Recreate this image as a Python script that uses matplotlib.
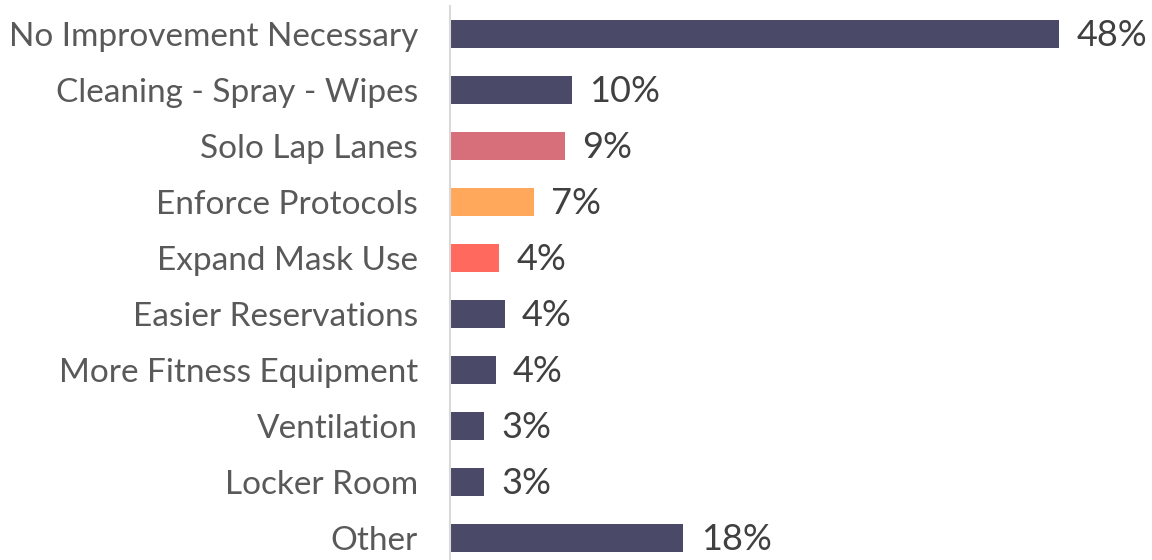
import matplotlib.pyplot as plt

categories = ['No Improvement Necessary', 'Cleaning - Spray - Wipes', 'Solo Lap Lanes',
              'Enforce Protocols', 'Expand Mask Use', 'Easier Reservations',
              'More Fitness Equipment', 'Ventilation', 'Locker Room', 'Other']
values = [48.0, 9.6, 9.1, 6.6, 3.9, 4.3, 3.6, 2.7, 2.7, 18.4]
bar_colors = ['#4a4a68', '#4a4a68', '#d76f7a', '#ffa75a', '#ff695e',
              '#4a4a68', '#4a4a68', '#4a4a68', '#4a4a68', '#4a4a68']

plt.rcParams['font.family'] = ['Lato', 'DejaVu Sans']

fig = plt.figure(figsize=(11.52, 5.6), dpi=100)
ax = fig.add_axes([450 / 1152, 0, 1 - 450 / 1152, 1 - 6 / 560])

pos = list(range(len(categories)))
ax.barh(pos, values, height=0.5, color=bar_colors)

for p, v in zip(pos, values):
    ax.text(v + 1.35, p + 0.03, f'{v:.0f}%', va='center', ha='left',
            fontsize=26, color='#404040')

ax.set_xlim(0, 702 / 12.69)
ax.set_ylim(9.39, -0.5)
ax.set_yticks(pos)
ax.set_yticklabels(categories, fontsize=24, color='#595959')
ax.tick_params(axis='y', length=0, pad=23)
ax.set_xticks([])

for s in ['top', 'right', 'bottom']:
    ax.spines[s].set_visible(False)
ax.spines['left'].set_color('#d9d9d9')
ax.spines['left'].set_linewidth(1.5)

fig.savefig('out.png', dpi=100)
